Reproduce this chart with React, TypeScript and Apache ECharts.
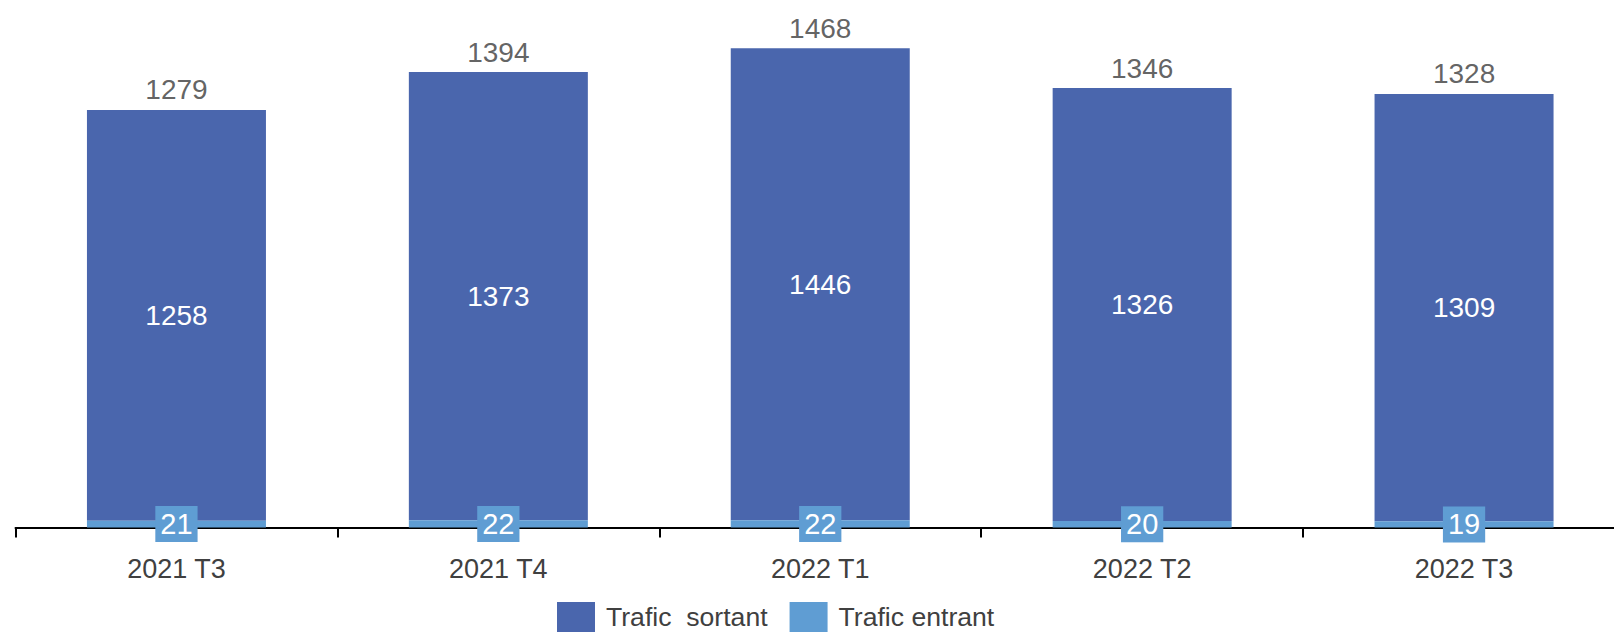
import React, { useEffect, useRef } from "react";
import * as echarts from "echarts";

const categories = ["2021 T3", "2021 T4", "2022 T1", "2022 T2", "2022 T3"];
const entrant = [21, 22, 22, 20, 19];
const sortant = [1258, 1373, 1446, 1326, 1309];
const totals = [1279, 1394, 1468, 1346, 1328];
const seriesNames = ["Trafic  sortant", "Trafic entrant"];

const FONT = "'Liberation Sans', Arial, sans-serif";

export default function App() {
  const ref = useRef<HTMLDivElement>(null);
  useEffect(() => {
    if (!ref.current) return;
    const chart = echarts.init(ref.current, undefined, { renderer: "svg" });
    chart.setOption({
      animation: false,
      grid: {
        left: 15.5,
        width: 1609.5,
        top: 5.2,
        bottom: 104.5,
        containLabel: false,
        outerBoundsMode: "none",
      },
      legend: {
        data: [
          { name: seriesNames[0], itemStyle: { color: "#4A66AD" } },
          { name: seriesNames[1], itemStyle: { color: "#5F9DD3" } },
        ],
        left: 552,
        top: 597,
        icon: "rect",
        itemWidth: 38,
        itemHeight: 30,
        itemGap: 22,
        textStyle: { fontSize: 26.6, color: "#404040", fontFamily: FONT, padding: [0, 0, 0, 6] },
        selectedMode: false,
      },
      xAxis: {
        type: "category",
        data: categories,
        axisLine: { show: true, lineStyle: { color: "#000", width: 2 } },
        axisTick: { show: true, length: 10, lineStyle: { color: "#000", width: 2 } },
        axisLabel: { fontSize: 27, color: "#404040", fontFamily: FONT, margin: 28 },
      },
      yAxis: {
        type: "value",
        min: 0,
        max: 1600,
        show: false,
        splitLine: { show: false },
      },
      series: [
        {
          name: seriesNames[1],
          type: "bar",
          stack: "t",
          data: entrant,
          barWidth: 179,
          itemStyle: { color: "#5F9DD3" },
          z: 3,
          label: {
            show: true,
            position: "inside",
            color: "#fff",
            fontSize: 29,
            fontFamily: FONT,
            backgroundColor: "#5F9DD3",
            padding: [4, 5, 3, 5],
          },
        },
        {
          name: seriesNames[0],
          type: "bar",
          stack: "t",
          data: sortant,
          barWidth: 179,
          itemStyle: { color: "#4A66AD" },
          label: {
            show: true,
            position: "inside",
            color: "#fff",
            fontSize: 28,
            fontFamily: FONT,
          },
        },
        {
          name: "total",
          type: "scatter",
          data: totals,
          symbolSize: 0,
          silent: true,
          label: {
            show: true,
            position: "top",
            distance: 6,
            color: "#3a3a3a",
            fontSize: 28,
            fontFamily: FONT,
          },
        },
      ],
    });
    return () => chart.dispose();
  }, []);
  return (
    <div
      ref={ref}
      style={{ position: "absolute", left: 0, top: 0, width: 1614, height: 632, background: "#fff" }}
    />
  );
}
